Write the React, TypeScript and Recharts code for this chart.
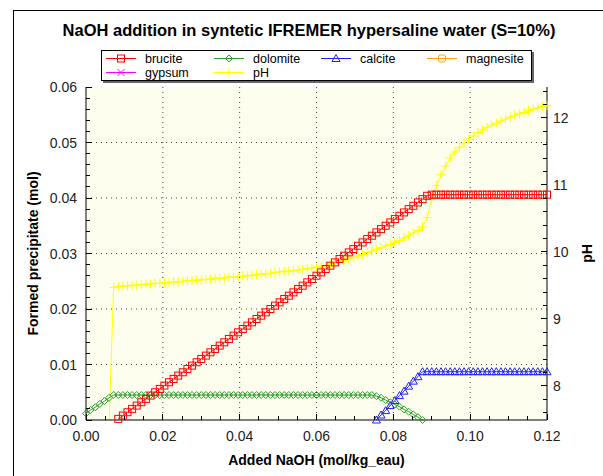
import React from "react";
import { LineChart, Line, XAxis, YAxis, CartesianGrid } from "recharts";

// NaOH added (mol/kg_eau), one row per simulation step
const naoh = [
  0.0, 0.0012, 0.0024, 0.0036, 0.0048, 0.006, 0.0072, 0.0084, 0.0096, 0.0108,
  0.012, 0.0132, 0.0144, 0.0156, 0.0168, 0.018, 0.0192, 0.0204, 0.0216, 0.0228,
  0.024, 0.0252, 0.0264, 0.0276, 0.0288, 0.03, 0.0312, 0.0324, 0.0336, 0.0348,
  0.036, 0.0372, 0.0384, 0.0396, 0.0408, 0.042, 0.0432, 0.0444, 0.0456, 0.0468,
  0.048, 0.0492, 0.0504, 0.0516, 0.0528, 0.054, 0.0552, 0.0564, 0.0576, 0.0588,
  0.06, 0.0612, 0.0624, 0.0636, 0.0648, 0.066, 0.0672, 0.0684, 0.0696, 0.0708,
  0.072, 0.0732, 0.0744, 0.0756, 0.0768, 0.078, 0.0792, 0.0804, 0.0816, 0.0828,
  0.084, 0.0852, 0.0864, 0.0876, 0.0888, 0.09, 0.0912, 0.0924, 0.0936, 0.0948,
  0.096, 0.0972, 0.0984, 0.0996, 0.1008, 0.102, 0.1032, 0.1044, 0.1056, 0.1068,
  0.108, 0.1092, 0.1104, 0.1116, 0.1128, 0.114, 0.1152, 0.1164, 0.1176, 0.1188,
  0.12,
];

const brucite = [
  null, null, null, null, null, null, null, 0.0002, 0.0008, 0.0014,
  0.002, 0.0026, 0.0032, 0.0038, 0.0044, 0.005, 0.0056, 0.0062, 0.0068, 0.0074,
  0.008, 0.0086, 0.0092, 0.0098, 0.0104, 0.011, 0.0116, 0.0122, 0.0128, 0.0134,
  0.014, 0.0146, 0.0152, 0.0158, 0.0164, 0.017, 0.0176, 0.0182, 0.0188, 0.0194,
  0.02, 0.0206, 0.0212, 0.0218, 0.0224, 0.023, 0.0236, 0.0242, 0.0248, 0.0254,
  0.026, 0.0266, 0.0272, 0.0278, 0.0284, 0.029, 0.0296, 0.0302, 0.0308, 0.0314,
  0.032, 0.0326, 0.0332, 0.0338, 0.0344, 0.035, 0.0356, 0.0362, 0.0368, 0.0374,
  0.038, 0.0386, 0.0392, 0.0398, 0.0404, 0.0406, 0.0406, 0.0406, 0.0406, 0.0406,
  0.0406, 0.0406, 0.0406, 0.0406, 0.0406, 0.0406, 0.0406, 0.0406, 0.0406, 0.0406,
  0.0406, 0.0406, 0.0406, 0.0406, 0.0406, 0.0406, 0.0406, 0.0406, 0.0406, 0.0406,
  0.0406,
];

const dolomite = [
  0.0012, 0.0018, 0.0023, 0.0029, 0.0034, 0.004, 0.0045, 0.0045, 0.0045, 0.0045,
  0.0045, 0.0045, 0.0045, 0.0045, 0.0045, 0.0045, 0.0045, 0.0045, 0.0045, 0.0045,
  0.0045, 0.0045, 0.0045, 0.0045, 0.0045, 0.0045, 0.0045, 0.0045, 0.0045, 0.0045,
  0.0045, 0.0045, 0.0045, 0.0045, 0.0045, 0.0045, 0.0045, 0.0045, 0.0045, 0.0045,
  0.0045, 0.0045, 0.0045, 0.0045, 0.0045, 0.0045, 0.0045, 0.0045, 0.0045, 0.0045,
  0.0045, 0.0045, 0.0045, 0.0045, 0.0045, 0.0045, 0.0045, 0.0045, 0.0045, 0.0045,
  0.0045, 0.0045, 0.0045, 0.0043, 0.004, 0.0036, 0.0032, 0.0028, 0.0024, 0.0019,
  0.0015, 0.001, 0.0005, 0.0, null, null, null, null, null, null,
  null, null, null, null, null, null, null, null, null, null,
  null, null, null, null, null, null, null, null, null, null,
  null,
];

const calcite = [
  null, null, null, null, null, null, null, null, null, null,
  null, null, null, null, null, null, null, null, null, null,
  null, null, null, null, null, null, null, null, null, null,
  null, null, null, null, null, null, null, null, null, null,
  null, null, null, null, null, null, null, null, null, null,
  null, null, null, null, null, null, null, null, null, null,
  null, null, null, 0.0, 0.0009, 0.0017, 0.0026, 0.0035, 0.0044, 0.0052,
  0.0061, 0.007, 0.0078, 0.0087, 0.0087, 0.0087, 0.0087, 0.0087, 0.0087, 0.0087,
  0.0087, 0.0087, 0.0087, 0.0087, 0.0087, 0.0087, 0.0087, 0.0087, 0.0087, 0.0087,
  0.0087, 0.0087, 0.0087, 0.0087, 0.0087, 0.0087, 0.0087, 0.0087, 0.0087, 0.0087,
  0.0087,
];

const ph = [
  null, null, null, null, null, 7.45, 9.47, 9.48, 9.49, 9.49,
  9.5, 9.5, 9.51, 9.52, 9.52, 9.53, 9.53, 9.54, 9.54, 9.55,
  9.55, 9.56, 9.57, 9.57, 9.58, 9.58, 9.59, 9.59, 9.6, 9.61,
  9.61, 9.62, 9.62, 9.63, 9.64, 9.64, 9.65, 9.66, 9.67, 9.67,
  9.68, 9.69, 9.7, 9.71, 9.71, 9.72, 9.73, 9.74, 9.75, 9.76,
  9.77, 9.78, 9.79, 9.81, 9.83, 9.85, 9.87, 9.89, 9.91, 9.94,
  9.96, 9.99, 10.01, 10.04, 10.06, 10.09, 10.11, 10.14, 10.17, 10.21,
  10.24, 10.28, 10.32, 10.37, 10.51, 10.79, 10.99, 11.15, 11.28, 11.4,
  11.49, 11.56, 11.62, 11.68, 11.73, 11.78, 11.82, 11.86, 11.89, 11.92,
  11.95, 11.98, 12.01, 12.04, 12.06, 12.08, 12.11, 12.13, 12.15, 12.17,
  12.18,
];

const xTicks = [
  0, 0.005, 0.01, 0.015, 0.02, 0.025, 0.03, 0.035, 0.04, 0.045, 0.05, 0.055, 0.06,
  0.065, 0.07, 0.075, 0.08, 0.085, 0.09, 0.095, 0.1, 0.105, 0.11, 0.115, 0.12,
];
const xLabels = [0, 0.02, 0.04, 0.06, 0.08, 0.1, 0.12];

const precTicks = [
  0, 0.002, 0.004, 0.006, 0.008, 0.01, 0.012, 0.014, 0.016, 0.018, 0.02, 0.022,
  0.024, 0.026, 0.028, 0.03, 0.032, 0.034, 0.036, 0.038, 0.04, 0.042, 0.044,
  0.046, 0.048, 0.05, 0.052, 0.054, 0.056, 0.058, 0.06,
];
const precLabels = [0, 0.01, 0.02, 0.03, 0.04, 0.05, 0.06];

const phTicks = [
  7.6, 7.8, 8, 8.2, 8.4, 8.6, 8.8, 9, 9.2, 9.4, 9.6, 9.8, 10, 10.2, 10.4, 10.6,
  10.8, 11, 11.2, 11.4, 11.6, 11.8, 12, 12.2, 12.4,
];
const phLabels = [8, 9, 10, 11, 12];

const data = naoh.map((x, i) => ({
  naoh: x,
  brucite: brucite[i],
  dolomite: dolomite[i],
  calcite: calcite[i],
  ph: ph[i],
}));

const FONT = '"Liberation Sans", Arial, sans-serif';
const PLOT = { left: 86, right: 547, top: 87, bottom: 420 };

const RED = "#ff0000";
const GREEN = "#2aa02a";
const BLUE = "#2020ff";
const ORANGE = "#ffa500";
const MAGENTA = "#ff00ff";
const YELLOW = "#ffff00";

type MarkerKind = "square" | "diamond" | "triangle" | "rounded" | "cross" | "plus";

function Marker({ kind, cx, cy, color }: { kind: MarkerKind; cx: number; cy: number; color: string }) {
  switch (kind) {
    case "square":
      return <rect x={cx - 3.5} y={cy - 3.5} width={7} height={7} fill="none" stroke={color} />;
    case "rounded":
      return <rect x={cx - 3.5} y={cy - 3.5} width={7} height={7} rx={2} fill="none" stroke={color} />;
    case "diamond":
      return (
        <polygon
          points={`${cx},${cy - 3.5} ${cx + 3.5},${cy} ${cx},${cy + 3.5} ${cx - 3.5},${cy}`}
          fill="none"
          stroke={color}
        />
      );
    case "triangle":
      return (
        <polygon
          points={`${cx},${cy - 4} ${cx + 4},${cy + 3} ${cx - 4},${cy + 3}`}
          fill="none"
          stroke={color}
        />
      );
    case "cross":
      return (
        <path
          d={`M${cx - 3.5},${cy - 3.5}L${cx + 3.5},${cy + 3.5}M${cx - 3.5},${cy + 3.5}L${cx + 3.5},${cy - 3.5}`}
          stroke={color}
        />
      );
    default:
      return <path d={`M${cx - 4.5},${cy}L${cx + 4.5},${cy}M${cx},${cy - 4.5}L${cx},${cy + 4.5}`} stroke={color} />;
  }
}

const markerDot = (kind: MarkerKind, color: string) => (props: any) => {
  const { cx, cy, value, index } = props;
  if (value == null || cy == null || Number.isNaN(cy) || cy > PLOT.bottom + 1) {
    return <g key={`dot-${index}`} />;
  }
  return (
    <g key={`dot-${index}`}>
      <Marker kind={kind} cx={cx} cy={cy} color={color} />
    </g>
  );
};

const isMajor = (v: number, majors: number[]) => majors.some((m) => Math.abs(m - v) < 1e-9);

const tickText = { fontFamily: FONT, fontSize: 14, fill: "#222" };

function BottomTick({ x, payload }: any) {
  const major = isMajor(payload.value, xLabels);
  return (
    <g>
      <line x1={x} x2={x} y1={PLOT.bottom} y2={PLOT.bottom - (major ? 6 : 4)} stroke="#000" shapeRendering="crispEdges" />
      {major && (
        <text x={x} y={PLOT.bottom + 16} textAnchor="middle" dominantBaseline="central" style={tickText}>
          {payload.value.toFixed(2)}
        </text>
      )}
    </g>
  );
}

function TopTick({ x, payload }: any) {
  const major = isMajor(payload.value, xLabels);
  return (
    <line x1={x} x2={x} y1={PLOT.top} y2={PLOT.top + (major ? 6 : 4)} stroke="#000" shapeRendering="crispEdges" />
  );
}

function LeftTick({ y, payload }: any) {
  const major = isMajor(payload.value, precLabels);
  return (
    <g>
      <line x1={PLOT.left} x2={PLOT.left + (major ? 6 : 4)} y1={y} y2={y} stroke="#000" shapeRendering="crispEdges" />
      {major && (
        <text x={PLOT.left - 9} y={y} textAnchor="end" dominantBaseline="central" style={tickText}>
          {payload.value.toFixed(2)}
        </text>
      )}
    </g>
  );
}

function RightTick({ y, payload }: any) {
  const major = isMajor(payload.value, phLabels);
  return (
    <g>
      <line x1={PLOT.right} x2={PLOT.right - (major ? 6 : 4)} y1={y} y2={y} stroke="#000" shapeRendering="crispEdges" />
      {major && (
        <text x={PLOT.right + 6} y={y} textAnchor="start" dominantBaseline="central" style={tickText}>
          {payload.value}
        </text>
      )}
    </g>
  );
}

const legendItems: { name: string; kind: MarkerKind; color: string; col: number; row: number }[] = [
  { name: "brucite", kind: "square", color: RED, col: 0, row: 0 },
  { name: "dolomite", kind: "diamond", color: GREEN, col: 1, row: 0 },
  { name: "calcite", kind: "triangle", color: BLUE, col: 2, row: 0 },
  { name: "magnesite", kind: "rounded", color: ORANGE, col: 3, row: 0 },
  { name: "gypsum", kind: "cross", color: MAGENTA, col: 0, row: 1 },
  { name: "pH", kind: "plus", color: YELLOW, col: 1, row: 1 },
];

function LegendBox() {
  const colX = [4, 112, 219, 325];
  const rowY = [7.5, 21.5];
  return (
    <div
      style={{
        position: "absolute",
        left: 101,
        top: 50,
        width: 429,
        height: 29,
        border: "1px solid #000",
        boxShadow: "2px 2px 0 #666",
        background: "#fff",
      }}
    >
      <svg width={429} height={29} style={{ display: "block" }}>
        {legendItems.map((it) => {
          const x0 = colX[it.col];
          const y0 = rowY[it.row];
          return (
            <g key={it.name}>
              <line x1={x0} x2={x0 + 30} y1={y0} y2={y0} stroke={it.color} />
              <Marker kind={it.kind} cx={x0 + 15} cy={y0} color={it.color} />
              <text x={x0 + 39} y={y0} dominantBaseline="central" style={{ fontFamily: FONT, fontSize: 12.5, fill: "#000" }}>
                {it.name}
              </text>
            </g>
          );
        })}
      </svg>
    </div>
  );
}

const axisTitle = { fontFamily: FONT, fontSize: 14, fontWeight: 700, fill: "#000" };

export default function App() {
  return (
    <div
      style={{
        position: "absolute",
        left: 0,
        top: 0,
        width: 603,
        height: 476,
        background: "#fff",
        overflow: "hidden",
      }}
    >
      <div
        style={{
          position: "absolute",
          left: 13,
          top: 10,
          width: 700,
          height: 600,
          border: "1px solid #000",
        }}
      />
      <div
        style={{
          position: "absolute",
          left: 0,
          width: 618,
          top: 20,
          textAlign: "center",
          fontFamily: FONT,
          fontSize: 16.5,
          fontWeight: 700,
          color: "#000",
          lineHeight: "20px",
        }}
      >
        NaOH addition in syntetic IFREMER hypersaline water (S=10%)
      </div>
      <LineChart
        width={603}
        height={476}
        data={data}
        margin={{ top: 87, right: 0, bottom: 0, left: 10 }}
        style={{ position: "absolute", left: 0, top: 0 }}
      >
        <CartesianGrid
          yAxisId="left"
          fill="#fefeee"
          fillOpacity={1}
          stroke="#444"
          strokeDasharray="1 4"
          horizontalValues={[0.01, 0.02, 0.03, 0.04, 0.05]}
          verticalValues={[0.02, 0.04, 0.06, 0.08, 0.1]}
        />
        <XAxis
          dataKey="naoh"
          type="number"
          domain={[0, 0.12]}
          ticks={xTicks}
          interval={0}
          height={56}
          axisLine={{ stroke: "#000" }}
          tickLine={false}
          tick={<BottomTick />}
          label={{ value: "Added NaOH (mol/kg_eau)", position: "insideBottom", offset: 11, style: axisTitle }}
        />
        <XAxis
          xAxisId="top"
          orientation="top"
          dataKey="naoh"
          type="number"
          domain={[0, 0.12]}
          ticks={xTicks}
          interval={0}
          height={0}
          axisLine={{ stroke: "#000" }}
          tickLine={false}
          tick={<TopTick />}
        />
        <YAxis
          yAxisId="left"
          type="number"
          domain={[0, 0.06]}
          ticks={precTicks}
          interval={0}
          width={76}
          axisLine={{ stroke: "#000" }}
          tickLine={false}
          tick={<LeftTick />}
          label={{
            value: "Formed precipitate (mol)",
            angle: -90,
            position: "insideLeft",
            offset: 23,
            style: { ...axisTitle, textAnchor: "middle" },
          }}
        />
        <YAxis
          yAxisId="ph"
          orientation="right"
          type="number"
          domain={[7.49, 12.46]}
          allowDataOverflow
          ticks={phTicks}
          interval={0}
          width={56}
          axisLine={{ stroke: "#000" }}
          tickLine={false}
          tick={<RightTick />}
          label={{
            value: "pH",
            angle: -90,
            position: "insideRight",
            offset: 16,
            style: { ...axisTitle, textAnchor: "middle" },
          }}
        />
        <Line
          yAxisId="ph"
          dataKey="ph"
          type="linear"
          stroke={YELLOW}
          strokeWidth={1}
          dot={markerDot("plus", YELLOW)}
          activeDot={false}
          isAnimationActive={false}
        />
        <Line
          yAxisId="left"
          dataKey="dolomite"
          type="linear"
          stroke={GREEN}
          strokeWidth={1}
          dot={markerDot("diamond", GREEN)}
          activeDot={false}
          isAnimationActive={false}
        />
        <Line
          yAxisId="left"
          dataKey="calcite"
          type="linear"
          stroke={BLUE}
          strokeWidth={1}
          dot={markerDot("triangle", BLUE)}
          activeDot={false}
          isAnimationActive={false}
        />
        <Line
          yAxisId="left"
          dataKey="brucite"
          type="linear"
          stroke={RED}
          strokeWidth={1}
          dot={markerDot("square", RED)}
          activeDot={false}
          isAnimationActive={false}
        />
      </LineChart>
      <LegendBox />
    </div>
  );
}
